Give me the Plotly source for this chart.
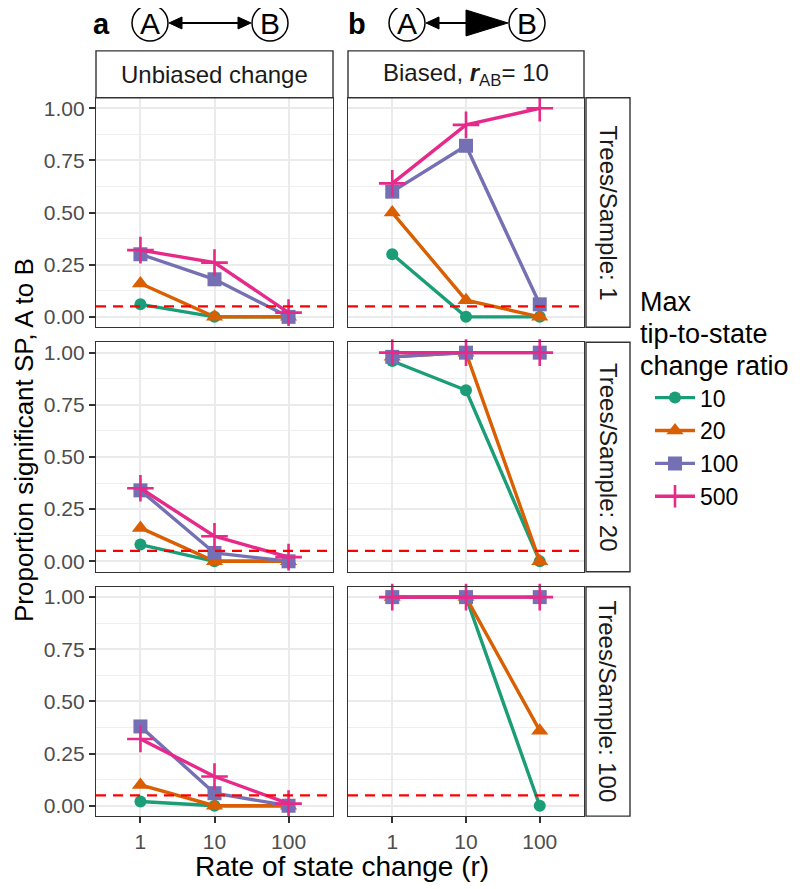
import plotly.graph_objects as go

OFF = 8  # default page body margin
W, H = 800 - OFF, 889 - OFF

rates = ["1", "10", "100"]
ratios = ["10", "20", "100", "500"]
col_labels = ["Unbiased change", "Biased, <b><i>r</i></b><sub>AB</sub>= 10"]
row_labels = ["Trees/Sample: 1", "Trees/Sample: 20", "Trees/Sample: 100"]
legend_title_lines = ["Max", "tip-to-state", "change ratio"]
y_ticks = [0, 0.25, 0.5, 0.75, 1.0]
y_tick_text = ["0.00", "0.25", "0.50", "0.75", "1.00"]
threshold = 0.05

# proportion significant, per panel, per max tip-to-state ratio (values at r = 1, 10, 100)
unbiased_ts1 = {"10": [0.06, 0.00, 0.00], "20": [0.16, 0.00, 0.00],
                "100": [0.30, 0.18, 0.00], "500": [0.32, 0.26, 0.02]}
biased_ts1 = {"10": [0.30, 0.00, 0.00], "20": [0.50, 0.08, 0.00],
              "100": [0.60, 0.82, 0.06], "500": [0.64, 0.92, 1.00]}
unbiased_ts20 = {"10": [0.08, 0.00, 0.00], "20": [0.16, 0.00, 0.00],
                 "100": [0.34, 0.04, 0.00], "500": [0.35, 0.12, 0.02]}
biased_ts20 = {"10": [0.96, 0.82, 0.00], "20": [0.98, 1.00, 0.00],
               "100": [0.98, 1.00, 1.00], "500": [1.00, 1.00, 1.00]}
unbiased_ts100 = {"10": [0.02, 0.00, 0.00], "20": [0.10, 0.00, 0.00],
                  "100": [0.38, 0.06, 0.00], "500": [0.32, 0.14, 0.01]}
biased_ts100 = {"10": [1.00, 1.00, 0.00], "20": [1.00, 1.00, 0.36],
                "100": [1.00, 1.00, 1.00], "500": [1.00, 1.00, 1.00]}

panels = [[unbiased_ts1, biased_ts1],
          [unbiased_ts20, biased_ts20],
          [unbiased_ts100, biased_ts100]]

colors = {"10": "#1B9E77", "20": "#D95F02", "100": "#7570B3", "500": "#E7298A"}
symbols = {"10": "circle", "20": "triangle-up", "100": "square", "500": "cross-thin-open"}
msizes = {"10": 12, "20": 15, "100": 14, "500": 19}

FONT = "Liberation Sans, Arial, sans-serif"
col_px = [(96, 333), (348, 584)]
row_px = [(97, 327), (342, 572), (587, 817)]


def fx(p):
    return (p - OFF) / W


def fy(p):
    return 1 - (p - OFF) / H


fig = go.Figure()
layout = {}
shapes = []
annotations = []


def note(x, y, text, size, color="black", angle=0, xanchor="center"):
    annotations.append(dict(xref="paper", yref="paper", x=fx(x), y=fy(y), text=text,
                            showarrow=False, xanchor=xanchor, yanchor="middle",
                            textangle=angle, font=dict(family=FONT, size=size, color=color)))


for r in range(3):
    for c in range(2):
        n = r * 2 + c + 1
        xa = "x" if n == 1 else f"x{n}"
        ya = "y" if n == 1 else f"y{n}"
        data = panels[r][c]
        for ratio in ratios:
            fig.add_trace(go.Scatter(
                x=rates, y=data[ratio], mode="lines+markers",
                name=ratio, legendgroup=ratio, showlegend=(n == 1),
                line=dict(color=colors[ratio], width=3.4),
                marker=dict(symbol=symbols[ratio], size=msizes[ratio], color=colors[ratio],
                            line=dict(color=colors[ratio], width=2.6 if ratio == "500" else 0)),
                xaxis=xa, yaxis=ya, cliponaxis=False))
        x0, x1 = col_px[c]
        y0, y1 = row_px[r]
        layout[f"xaxis{'' if n == 1 else n}"] = dict(
            domain=[fx(x0), fx(x1)], anchor=ya, type="category",
            categoryorder="array", categoryarray=rates, range=[-0.6, 2.6],
            showgrid=True, gridcolor="#EBEBEB", gridwidth=1.8,
            showline=True, mirror=True, linecolor="#333333", linewidth=1.4,
            zeroline=False,
            showticklabels=(r == 2), ticks="outside" if r == 2 else "",
            ticklen=6, tickwidth=1.8, tickcolor="#333333",
            tickfont=dict(family=FONT, size=21, color="#4D4D4D"))
        layout[f"yaxis{'' if n == 1 else n}"] = dict(
            domain=[fy(y1), fy(y0)], anchor=xa, range=[-0.05, 1.05],
            tickvals=y_ticks, ticktext=y_tick_text,
            showgrid=True, gridcolor="#EBEBEB", gridwidth=1.8,
            minor=dict(tickvals=[0.125, 0.375, 0.625, 0.875], showgrid=True,
                       gridcolor="#EFEFEF", gridwidth=1.2, ticks=""),
            showline=True, mirror=True, linecolor="#333333", linewidth=1.4,
            zeroline=False,
            showticklabels=(c == 0), ticks="outside" if c == 0 else "",
            ticklen=6, tickwidth=1.8, tickcolor="#333333",
            tickfont=dict(family=FONT, size=21, color="#4D4D4D"))
        shapes.append(dict(type="line", xref=f"{xa} domain", yref=ya,
                           x0=0, x1=1, y0=threshold, y1=threshold,
                           line=dict(color="red", width=2.2, dash="10px,7px")))

# column strips
for c in range(2):
    x0, x1 = col_px[c]
    shapes.append(dict(type="rect", xref="paper", yref="paper",
                       x0=fx(x0), x1=fx(x1), y0=fy(97), y1=fy(50),
                       line=dict(color="#333333", width=1.4), fillcolor="white"))
    note((x0 + x1) / 2, 74, col_labels[c], 24, "#1A1A1A")
# row strips
for r in range(3):
    y0, y1 = row_px[r]
    shapes.append(dict(type="rect", xref="paper", yref="paper",
                       x0=fx(586), x1=fx(630), y0=fy(y1), y1=fy(y0),
                       line=dict(color="#333333", width=1.4), fillcolor="white"))
    note(608, (y0 + y1) / 2, row_labels[r], 24, "#1A1A1A", 90)

# axis titles
note(342, 867, "Rate of state change (r)", 28)
note(24, 440, "Proportion significant SP, A to B", 26, angle=-90)

# legend title (three lines)
for i, line in enumerate(legend_title_lines):
    note(638, 302 + 32 * i, line, 27, xanchor="left")

# header diagrams
hy = 22
rad = 18
for lab, lx, ca, cb in [("a", 101, 150, 270), ("b", 357, 407, 527)]:
    note(lx, hy + 1, f"<b>{lab}</b>", 29)
    for cx, t in [(ca, "A"), (cb, "B")]:
        shapes.append(dict(type="circle", xref="paper", yref="paper",
                           x0=fx(cx - rad), x1=fx(cx + rad), y0=fy(hy + rad), y1=fy(hy - rad),
                           line=dict(color="black", width=1.5)))
        note(cx, hy + 1, t, 30)


def tri(tipx, basex, half):
    return (f"M {fx(tipx)},{fy(hy)} L {fx(basex)},{fy(hy - half)} "
            f"L {fx(basex)},{fy(hy + half)} Z")


# arrow a: double-headed
shapes.append(dict(type="line", xref="paper", yref="paper", x0=fx(174), x1=fx(246),
                   y0=fy(hy), y1=fy(hy), line=dict(color="black", width=2)))
shapes.append(dict(type="path", xref="paper", yref="paper", path=tri(169, 182, 6),
                   fillcolor="black", line=dict(color="black", width=1)))
shapes.append(dict(type="path", xref="paper", yref="paper", path=tri(251, 238, 6),
                   fillcolor="black", line=dict(color="black", width=1)))
# arrow b: biased
shapes.append(dict(type="line", xref="paper", yref="paper", x0=fx(430), x1=fx(480),
                   y0=fy(hy), y1=fy(hy), line=dict(color="black", width=2)))
shapes.append(dict(type="path", xref="paper", yref="paper", path=tri(426, 439, 6),
                   fillcolor="black", line=dict(color="black", width=1)))
shapes.append(dict(type="path", xref="paper", yref="paper", path=tri(508, 466, 13),
                   fillcolor="black", line=dict(color="black", width=1)))

fig.update_layout(
    width=W, height=H, margin=dict(l=0, r=0, t=0, b=0),
    plot_bgcolor="white", paper_bgcolor="white",
    shapes=shapes, annotations=annotations,
    legend=dict(x=fx(650), y=fy(376), xanchor="left", yanchor="top",
                font=dict(family=FONT, size=23, color="black"),
                itemwidth=40, bgcolor="rgba(0,0,0,0)", tracegroupgap=0),
    **layout)

fig.write_html("out.html")
